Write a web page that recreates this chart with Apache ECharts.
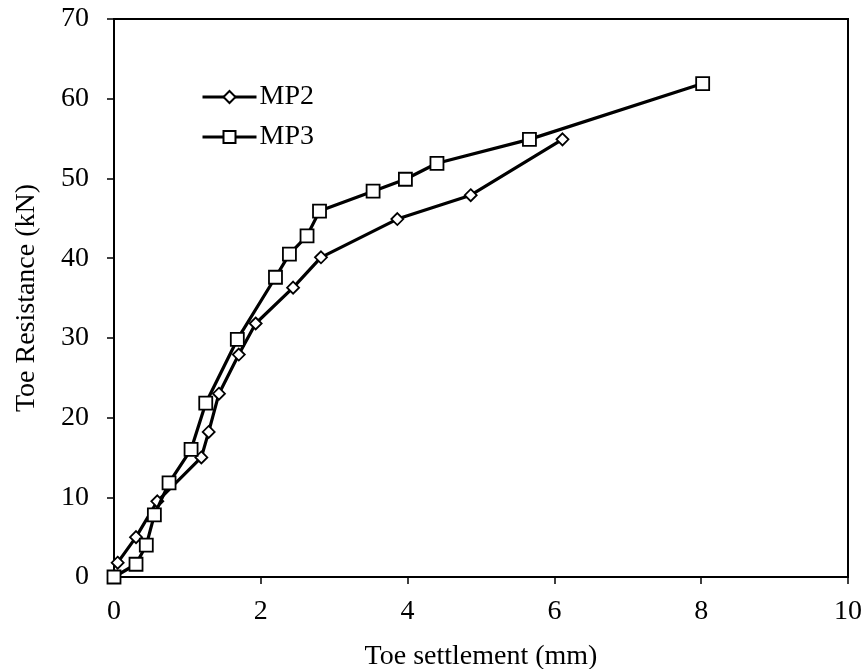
<!DOCTYPE html>
<html>
<head>
<meta charset="utf-8">
<script src="https://cdn.jsdelivr.net/npm/echarts@6/dist/echarts.min.js"></script>
<style>
  html, body { margin: 0; padding: 0; background: #fff; }
  #chart { width: 864px; height: 669px; }
</style>
</head>
<body>
<div id="chart"></div>
<script>
// Toe settlement (mm) vs toe resistance (kN) for two model piles
var mp2Settlement = [0.05, 0.30, 0.59, 1.19, 1.29, 1.43, 1.70, 1.93, 2.44, 2.82, 3.86, 4.86, 6.11];
var mp2Resistance = [1.8, 5.0, 9.5, 15.0, 18.2, 23.0, 27.9, 31.8, 36.3, 40.1, 44.9, 47.9, 54.9];

var mp3Settlement = [0.00, 0.30, 0.44, 0.55, 0.75, 1.05, 1.25, 1.68, 2.20, 2.39, 2.63, 2.80, 3.53, 3.97, 4.40, 5.66, 8.02];
var mp3Resistance = [0.0, 1.6, 4.0, 7.8, 11.8, 16.0, 21.8, 29.8, 37.6, 40.5, 42.8, 45.9, 48.4, 49.9, 51.9, 54.9, 61.9];

var xTicks = { min: 0, max: 10, step: 2 };
var yTicks = { min: 0, max: 70, step: 10 };

function pairs(xs, ys) {
  return xs.map(function (x, i) { return [x, ys[i]]; });
}

var font = 'Liberation Serif, Times New Roman, serif';
var fontSize = 28;
var chart = echarts.init(document.getElementById('chart'), null, { renderer: 'canvas' });

chart.setOption({
  animation: false,
  backgroundColor: '#fff',
  grid: {
    left: 114, right: 16, top: 19, bottom: 92,
    outerBoundsMode: 'none',
    containLabel: false,
    show: true, borderColor: '#000', borderWidth: 2, backgroundColor: 'transparent'
  },
  legend: {
    orient: 'vertical',
    left: 196, top: 78,
    itemWidth: 54, itemHeight: 15,
    itemGap: 12,
    lineStyle: { width: 3, color: '#000' },
    textStyle: { fontFamily: font, fontSize: fontSize, color: '#000', padding: [3, 0, 0, -2] },
    data: ['MP2', 'MP3']
  },
  xAxis: {
    type: 'value',
    min: xTicks.min, max: xTicks.max, interval: xTicks.step,
    name: 'Toe settlement (mm)',
    nameLocation: 'middle', nameGap: 66,
    nameTextStyle: { fontFamily: font, fontSize: fontSize, color: '#000' },
    axisLine: { show: true, lineStyle: { color: '#000', width: 2 } },
    axisTick: { show: true, inside: false, length: 7, lineStyle: { color: '#000', width: 1.5 } },
    axisLabel: { fontFamily: font, fontSize: fontSize, color: '#000', margin: 21 },
    splitLine: { show: false }
  },
  yAxis: {
    type: 'value',
    min: yTicks.min, max: yTicks.max, interval: yTicks.step,
    name: 'Toe Resistance (kN)',
    nameLocation: 'middle', nameGap: 73, nameRotate: 90,
    nameTextStyle: { fontFamily: font, fontSize: fontSize, color: '#000' },
    axisLine: { show: true, lineStyle: { color: '#000', width: 2 } },
    axisTick: { show: true, inside: false, length: 7, lineStyle: { color: '#000', width: 1.5 } },
    axisLabel: { fontFamily: font, fontSize: fontSize, color: '#000', margin: 25 },
    splitLine: { show: false }
  },
  series: [
    {
      name: 'MP2',
      type: 'line',
      data: pairs(mp2Settlement, mp2Resistance),
      symbol: 'diamond',
      symbolSize: 12,
      showAllSymbol: true,
      lineStyle: { color: '#000', width: 3.2 },
      itemStyle: { color: '#fff', borderColor: '#000', borderWidth: 1.8 },
      z: 2
    },
    {
      name: 'MP3',
      type: 'line',
      data: pairs(mp3Settlement, mp3Resistance),
      symbol: 'rect',
      symbolSize: 13,
      showAllSymbol: true,
      lineStyle: { color: '#000', width: 3.2 },
      itemStyle: { color: '#fff', borderColor: '#000', borderWidth: 1.8 },
      z: 3
    }
  ]
});
</script>
</body>
</html>
